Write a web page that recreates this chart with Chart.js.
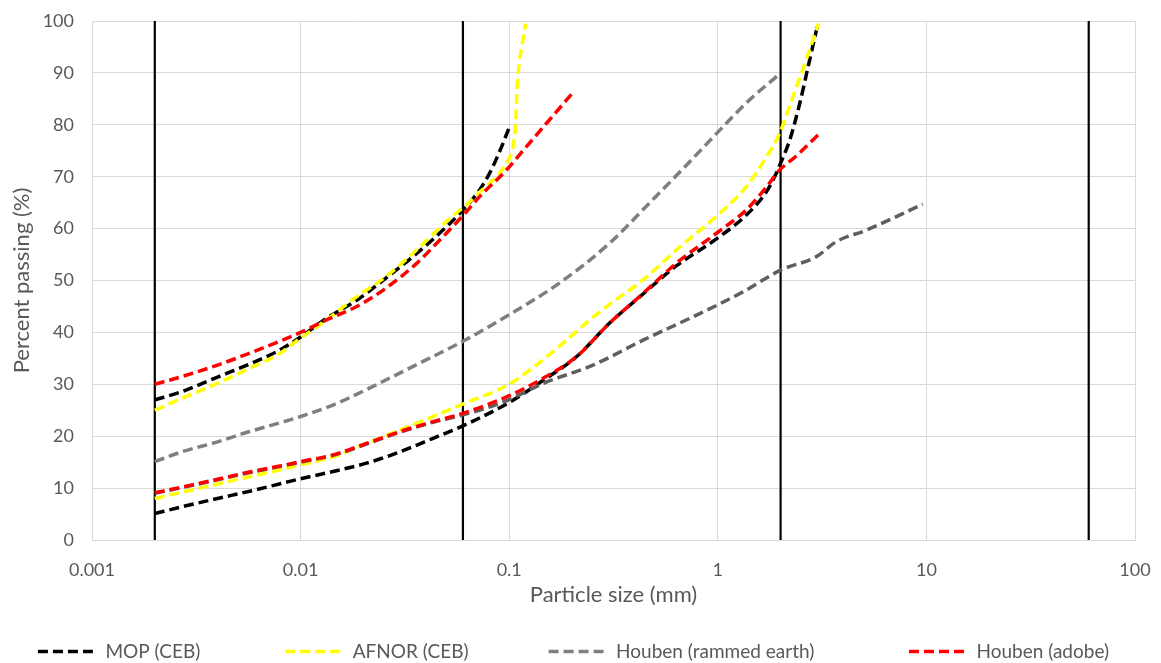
<!DOCTYPE html>
<html>
<head>
<meta charset="utf-8">
<script src="https://cdn.jsdelivr.net/npm/chart.js@4.4.1/dist/chart.umd.min.js"></script>
<style>
  html, body { margin: 0; padding: 0; background: #fff; }
</style>
</head>
<body>
<canvas id="gradingChart" width="1161" height="663"></canvas>
<script>
// particle size (mm) / percent passing
const mopUpperSize = [0.002, 0.0027, 0.004, 0.0057, 0.0077, 0.01, 0.0133, 0.0186, 0.025, 0.036, 0.052, 0.06, 0.072, 0.082, 0.092, 0.1];
const mopUpperPass = [27, 28.6, 31.4, 33.9, 36.3, 39.1, 42.7, 46.2, 50.1, 55.2, 61, 63.6, 67.4, 71.3, 75.8, 79.5];
const mopLowerSize = [0.002, 0.0027, 0.004, 0.0057, 0.0083, 0.01, 0.0143, 0.0207, 0.03, 0.0432, 0.06, 0.1, 0.146, 0.21, 0.303, 0.438, 0.632, 1, 1.37, 1.71, 1.91, 2, 2.21, 2.47, 2.71, 3];
const mopLowerPass = [5.1, 6.4, 8, 9.4, 11, 11.8, 13.2, 14.8, 17, 19.6, 22, 26.5, 30.8, 35.3, 41.8, 47.4, 52.8, 58.2, 62.6, 67.1, 70.7, 72.6, 77, 84.1, 91.2, 99];

const afnorUpperSize = [0.002, 0.0027, 0.004, 0.0057, 0.0077, 0.01, 0.0133, 0.0186, 0.025, 0.036, 0.052, 0.062, 0.072, 0.09, 0.099, 0.1045, 0.1077, 0.109, 0.112, 0.12];
const afnorUpperPass = [25, 27.3, 30.2, 33.1, 35.6, 38.9, 42.4, 46.9, 50.4, 55.9, 62, 64.5, 67, 70.7, 73.2, 76, 81, 87, 92, 99.5];
const afnorLowerSize = [0.002, 0.0027, 0.004, 0.0057, 0.0083, 0.01, 0.0143, 0.0207, 0.03, 0.0432, 0.06, 0.1, 0.126, 0.181, 0.243, 0.315, 0.438, 0.65, 1, 1.37, 1.71, 1.98, 2.29, 2.65, 3.04];
const afnorLowerPass = [8, 9.2, 10.8, 12.2, 13.7, 14.5, 16, 18.6, 21.2, 23.8, 26.2, 30, 32.8, 37.9, 42.4, 45.9, 50.1, 56.3, 62.6, 68.1, 73.8, 78.4, 85.4, 92.5, 99.5];

const rammedUpperSize = [0.002, 0.0027, 0.004, 0.0057, 0.0083, 0.01, 0.0143, 0.0207, 0.036, 0.06, 0.1, 0.174, 0.303, 0.472, 0.68, 0.98, 1.42, 1.94];
const rammedUpperPass = [15.1, 17, 18.9, 20.9, 22.8, 23.8, 26, 29, 33.8, 38.3, 43.4, 49.5, 57.2, 65, 71.5, 78.2, 84.8, 89.5];
const rammedLowerSize = [0.002, 0.0027, 0.004, 0.0057, 0.0083, 0.01, 0.0143, 0.0207, 0.03, 0.0432, 0.06, 0.094, 0.146, 0.252, 0.438, 0.76, 1.32, 2, 2.97, 3.7, 5.15, 9.6];
const rammedLowerPass = [9, 10.1, 11.6, 13, 14.3, 15, 16.3, 18.5, 20.8, 22.7, 24.1, 26.6, 30.2, 33.7, 38.5, 43, 47.8, 52, 54.6, 57.5, 59.7, 64.7];

const adobeUpperSize = [0.002, 0.0027, 0.004, 0.0057, 0.0083, 0.01, 0.0133, 0.0186, 0.025, 0.036, 0.0465, 0.06, 0.0723, 0.097, 0.121, 0.151, 0.2];
const adobeUpperPass = [30, 31.5, 33.7, 36, 38.6, 40, 42.4, 45, 48.2, 53.3, 57.8, 62.5, 66.2, 71.3, 75.8, 80.3, 86];
const adobeLowerSize = [0.002, 0.0027, 0.004, 0.0057, 0.0083, 0.01, 0.0143, 0.0207, 0.03, 0.0432, 0.06, 0.1, 0.146, 0.21, 0.303, 0.438, 0.632, 1, 1.37, 1.71, 1.98, 2.38, 3.05];
const adobeLowerPass = [9.1, 10.2, 11.7, 13.1, 14.4, 15.1, 16.4, 18.6, 20.9, 22.8, 24.4, 27.8, 31.2, 35.3, 41.8, 47.5, 53.3, 59.3, 63.6, 68, 71.3, 74, 78.2];

// clay / silt / sand / gravel limits
const boundarySizes = [0.002, 0.06, 2, 60];

const xTickValues = [0.001, 0.01, 0.1, 1, 10, 100];
const xTickLabels = ['0.001', '0.01', '0.1', '1', '10', '100'];

const seriesNames = ['MOP (CEB)', 'AFNOR (CEB)', 'Houben (rammed earth)', 'Houben (adobe)'];

function toPoints(sizes, passing) {
    return sizes.map((s, i) => ({ x: s, y: passing[i] }));
}

function curve(label, sizes, passing, color, order) {
    return {
        label: label,
        data: toPoints(sizes, passing),
        showLine: true,
        borderColor: color,
        backgroundColor: color,
        borderWidth: 3.5,
        borderDash: [10, 5],
        pointRadius: 0,
        cubicInterpolationMode: 'monotone',
        order: order
    };
}

let datasets = [
    curve(seriesNames[0], mopUpperSize, mopUpperPass, '#000000', 4),
    curve(seriesNames[0], mopLowerSize, mopLowerPass, '#000000', 4),
    curve(seriesNames[1], afnorUpperSize, afnorUpperPass, '#ffff00', 3),
    curve(seriesNames[1], afnorLowerSize, afnorLowerPass, '#ffff00', 3),
    curve(seriesNames[2], rammedUpperSize, rammedUpperPass, '#7f7f7f', 2),
    curve(seriesNames[2], rammedLowerSize, rammedLowerPass, '#5f5f5f', 2),
    curve(seriesNames[3], adobeUpperSize, adobeUpperPass, '#ff0000', 1),
    curve(seriesNames[3], adobeLowerSize, adobeLowerPass, '#ff0000', 1)
];

boundarySizes.forEach((s) => {
    datasets.push({
        label: 'limit ' + s,
        data: [{ x: s, y: 0 }, { x: s, y: 100 }],
        showLine: true,
        borderColor: '#000000',
        borderWidth: 2.2,
        pointRadius: 0,
        order: 5
    });
});

const legendIdx = [0, 2, 4, 6];
// trailing gap after each legend entry (px), Excel spreads them wide
const legendGaps = [73.5, 70.5, 84.5, 0];
const legendFont = '19px Lato';

Chart.defaults.font.family = 'Lato, "Open Sans", sans-serif';
Chart.defaults.color = '#595959';

let ctx = document.getElementById('gradingChart').getContext('2d');

function spacedText(text, gapPx) {
    ctx.save();
    ctx.font = legendFont;
    let n = Math.round(gapPx / ctx.measureText(' ').width);
    ctx.restore();
    return text + ' '.repeat(n);
}

new Chart(ctx, {
    type: 'scatter',
    data: { datasets: datasets },
    options: {
        responsive: false,
        animation: false,
        layout: { padding: { top: 21, right: 26, bottom: 0, left: 12 } },
        plugins: {
            tooltip: { enabled: false },
            legend: {
                position: 'bottom',
                maxHeight: 33,
                labels: {
                    usePointStyle: true,
                    pointStyle: 'line',
                    pointStyleWidth: 58,
                    padding: 12,
                    color: '#595959',
                    font: { size: 19 },
                    generateLabels: (chart) => legendIdx.map((di, k) => {
                        let ds = chart.data.datasets[di];
                        return {
                            text: spacedText(ds.label, legendGaps[k]),
                            datasetIndex: di,
                            fillStyle: ds.borderColor,
                            strokeStyle: ds.borderColor,
                            lineWidth: ds.borderWidth,
                            lineDash: ds.borderDash,
                            lineCap: 'butt',
                            pointStyle: 'line',
                            fontColor: '#595959',
                            hidden: false
                        };
                    })
                }
            }
        },
        scales: {
            x: {
                type: 'logarithmic',
                min: 0.001,
                max: 100,
                afterBuildTicks: (scale) => {
                    scale.ticks = xTickValues.map((v) => ({ value: v }));
                },
                afterFit: (scale) => { scale.height = 90; },
                ticks: {
                    autoSkip: false,
                    maxRotation: 0,
                    padding: 5,
                    font: { size: 18 },
                    callback: (v, i) => xTickLabels[i]
                },
                grid: { color: '#d9d9d9', lineWidth: 1, drawTicks: true, tickLength: 14, tickColor: 'rgba(0,0,0,0)' },
                border: { color: '#d9d9d9' },
                title: {
                    display: true,
                    text: 'Particle size (mm)',
                    font: { size: 22 },
                    padding: { top: 0, bottom: 22 }
                }
            },
            y: {
                min: 0,
                max: 100,
                afterFit: (scale) => { scale.width = 80; },
                ticks: { stepSize: 10, padding: 4, font: { size: 18 } },
                grid: { color: '#d9d9d9', lineWidth: 1, drawTicks: true, tickLength: 14, tickColor: 'rgba(0,0,0,0)' },
                border: { color: '#d9d9d9' },
                title: {
                    display: true,
                    text: 'Percent passing (%)',
                    font: { size: 22 },
                    padding: { top: -3, bottom: 0 }
                }
            }
        }
    }
});
</script>
</body>
</html>
